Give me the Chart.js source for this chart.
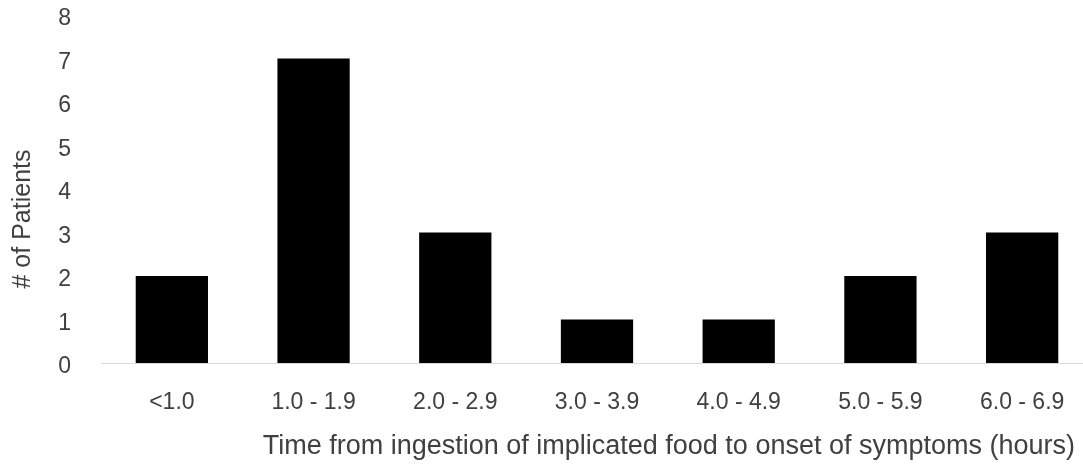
<!DOCTYPE html>
<html lang="en">

<head>
    <meta charset="UTF-8">
    <script src="https://cdn.jsdelivr.net/npm/chart.js"></script>
    <title>Onset of symptoms</title>
    <style>
        html,
        body {
            margin: 0;
            padding: 0;
            background: #ffffff;
            overflow: hidden;
        }

        /* the plot runs a little past the right edge of the window, as in the original */
        .chart-box {
            width: 1093px;
            height: 472px;
        }
    </style>
</head>

<body>
    <div class="chart-box">
        <canvas id="onsetChart"></canvas>
    </div>

    <script>
        // data
        const timeBins = ['<1.0', '1.0 - 1.9', '2.0 - 2.9', '3.0 - 3.9', '4.0 - 4.9', '5.0 - 5.9', '6.0 - 6.9'];
        const patientCounts = [2, 7, 3, 1, 1, 2, 3];
        const yTicks = [0, 1, 2, 3, 4, 5, 6, 7, 8];

        const xTitle = 'Time from ingestion of implicated food to onset of symptoms (hours)';
        const yTitle = '# of Patients';

        const textColor = '#404040';
        const fontFamily = '"Liberation Sans", Arial, sans-serif';

        // axis titles drawn by hand so they sit where Excel put them
        const axisTitles = {
            id: 'axisTitles',
            afterDraw(chart) {
                const c = chart.ctx;
                const area = chart.chartArea;
                c.save();
                c.fillStyle = textColor;
                c.textBaseline = 'middle';

                c.font = '27px ' + fontFamily;
                c.textAlign = 'right';
                c.fillText(xTitle, area.right - 18, chart.height - 25);

                c.font = '25px ' + fontFamily;
                c.textAlign = 'center';
                c.translate(23, (area.top + area.bottom) / 2 + 30);
                c.rotate(-Math.PI / 2);
                c.fillText(yTitle, 0, 0);
                c.restore();
            }
        };

        const ctx = document.getElementById('onsetChart').getContext('2d');
        const onsetChart = new Chart(ctx, {
            type: 'bar',
            data: {
                labels: timeBins,
                datasets: [{
                    label: '# of Patients',
                    data: patientCounts,
                    backgroundColor: '#000000',
                    borderWidth: 0,
                    barPercentage: 0.51,
                    categoryPercentage: 1.0
                }]
            },
            options: {
                responsive: true,
                maintainAspectRatio: false,
                animation: false,
                layout: {
                    padding: { top: 15, right: 0, bottom: 0, left: 0 }
                },
                plugins: {
                    legend: { display: false },
                    tooltip: { enabled: false }
                },
                scales: {
                    x: {
                        grid: { display: false },
                        border: { display: true, color: '#d9d9d9', width: 1 },
                        ticks: {
                            color: textColor,
                            font: { family: fontFamily, size: 23 },
                            padding: 18,
                            maxRotation: 0
                        },
                        afterFit: scale => { scale.height = 109; }
                    },
                    y: {
                        min: 0,
                        max: 8,
                        grid: { display: false },
                        border: { display: false },
                        afterBuildTicks: scale => {
                            scale.ticks = yTicks.map(v => ({ value: v }));
                        },
                        ticks: {
                            color: textColor,
                            font: { family: fontFamily, size: 23 },
                            padding: 22,
                            labelOffset: 4
                        },
                        afterFit: scale => {
                            scale.width = 101;
                            scale.paddingTop = 0;
                            scale.paddingBottom = 0;
                        }
                    }
                }
            },
            plugins: [axisTitles]
        });
    </script>
</body>

</html>
